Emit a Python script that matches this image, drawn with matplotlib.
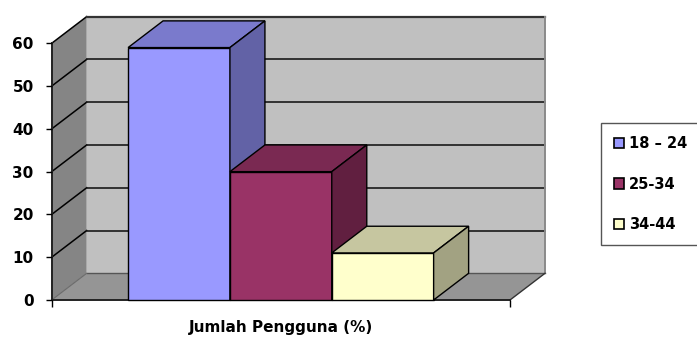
import matplotlib
matplotlib.use("Agg")
import matplotlib.pyplot as plt
from matplotlib.patches import Polygon, Patch

# data
groups = ['18 – 24', '25-34', '34-44']
values = [59, 30, 11]
yticks = [0, 10, 20, 30, 40, 50, 60]
xlabel = 'Jumlah Pengguna (%)'

# colours: front, top, side
front_cols = ['#9999ff', '#993366', '#ffffcc']
top_cols = ['#7a7acc', '#7a2952', '#c6c6a0']
side_cols = ['#6262a6', '#611f40', '#a2a282']

plt.rcParams['font.family'] = ['DejaVu Sans']
plt.rcParams['font.weight'] = 'bold'

fig = plt.figure(figsize=(6.97, 3.38), dpi=100)
W, H = 697, 338
ax = fig.add_axes([51.7 / W, 38 / H, 458.3 / W, 256.7 / H])

xmax = 4.5
ymax = 60
gap = 0.75
dx = 35 / (458.3 / xmax)      # depth offset in x units
dy = 26.7 / (256.7 / ymax)    # depth offset in y units

def poly(pts, fc, ec='black', lw=1.0, z=1):
    p = Polygon(pts, closed=True, facecolor=fc, edgecolor=ec, linewidth=lw,
                clip_on=False, zorder=z)
    ax.add_patch(p)

# walls and floor
poly([(0, 0), (dx, dy), (dx, ymax + dy), (0, ymax)], '#858585', ec='none', z=0)
poly([(dx, dy), (xmax + dx, dy), (xmax + dx, ymax + dy), (dx, ymax + dy)], '#c0c0c0', ec='none', z=0)
poly([(0, 0), (xmax, 0), (xmax + dx, dy), (dx, dy)], '#959595', ec='none', z=0)

# gridlines
for v in yticks[1:]:
    ax.plot([0, dx], [v, v + dy], color='black', lw=1.1, clip_on=False, zorder=0.5)
    ax.plot([dx, xmax + dx], [v + dy, v + dy], color='#1a1a1a', lw=1.2, clip_on=False, zorder=0.5)
ax.plot([dx, xmax + dx], [dy, dy], color='#555555', lw=1.0, clip_on=False, zorder=0.5)
ax.plot([0, dx], [0, dy], color='#6a6a6a', lw=0.8, clip_on=False, zorder=0.5)
ax.plot([dx, xmax + dx], [ymax + dy, ymax + dy], color='#333333', lw=1.6, clip_on=False, zorder=0.5)
ax.plot([xmax + dx, xmax + dx], [dy, ymax + dy], color='#8a8a8a', lw=1.4, clip_on=False, zorder=0.5)
ax.plot([xmax, xmax + dx], [0, dy], color='#333333', lw=1.0, clip_on=False, zorder=0.5)

# bars
for i, v in enumerate(values):
    x0 = gap + i
    x1 = x0 + 1
    poly([(x0, 0), (x1, 0), (x1, v), (x0, v)], front_cols[i], z=2)
    poly([(x0, v), (x1, v), (x1 + dx, v + dy), (x0 + dx, v + dy)], top_cols[i], z=2)
    poly([(x1, 0), (x1 + dx, dy), (x1 + dx, v + dy), (x1, v)], side_cols[i], z=2)

ax.set_xlim(0, xmax)
ax.set_ylim(0, ymax)
ax.set_facecolor('none')
for s in ['top', 'right']:
    ax.spines[s].set_visible(False)
for s in ['left', 'bottom']:
    ax.spines[s].set_color('#222222')
    ax.spines[s].set_linewidth(1.4)
    ax.spines[s].set_zorder(1)
ax.set_yticks(yticks)
ax.set_yticklabels([str(t) for t in yticks], fontsize=11, fontweight='bold')
ax.set_xticks([0, xmax])
ax.set_xticklabels(['', ''])
ax.tick_params(axis='y', length=4, width=1, pad=9, colors='black')
ax.tick_params(axis='x', length=5, width=1, colors='black')
ax.set_xlabel(xlabel, fontsize=11, fontweight='bold', labelpad=6)

handles = [Patch(facecolor=c, edgecolor='black', linewidth=1.2) for c in front_cols]
leg = fig.legend(handles, groups, loc='upper left', bbox_to_anchor=(601 / W, 1 - 123 / H),
                 fontsize=10.5, frameon=True, fancybox=False, framealpha=1,
                 edgecolor='#555555', handlelength=0.7, handleheight=0.7,
                 handletextpad=0.3, labelspacing=1.75, borderpad=0.9, borderaxespad=0)
leg.get_frame().set_linewidth(1.0)
for t in leg.get_texts():
    t.set_fontweight('bold')

fig.savefig('out.png', dpi=100)
